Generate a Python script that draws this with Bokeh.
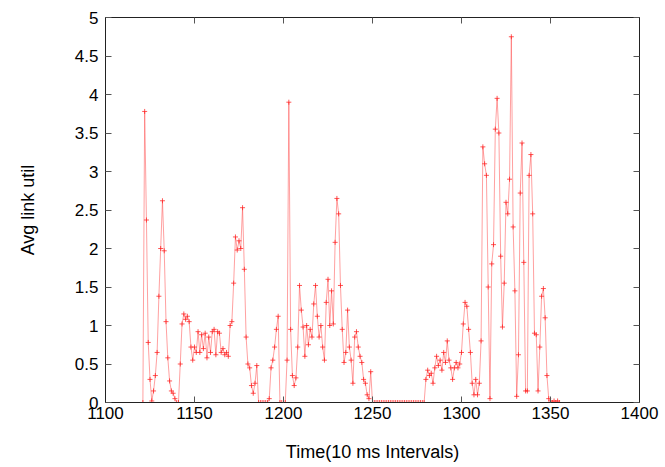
from bokeh.plotting import figure
from bokeh.models import Range1d, LinearAxis, FixedTicker
from bokeh.embed import file_html
from bokeh.resources import INLINE

# Time (10 ms intervals) and average link utilisation
time_start = 1121
util = [
    0.0, 3.78, 2.37, 0.78, 0.30, 0.02, 0.15, 0.35, 0.65, 1.38,          # 1121-1130
    2.00, 2.62, 1.97, 1.05, 0.58, 0.28, 0.15, 0.12, 0.05, 0.0,          # 1131-1140
    0.0, 0.50, 1.02, 1.15, 1.08, 1.12, 1.05, 0.72, 0.55, 0.72,          # 1141-1150
    0.65, 0.92, 0.65, 0.88, 0.70, 0.90, 0.58, 0.85, 0.65, 0.92,         # 1151-1160
    0.95, 0.62, 0.92, 0.90, 0.65, 0.70, 0.62, 0.65, 0.60, 1.00,         # 1161-1170
    1.05, 1.55, 2.15, 1.98, 2.10, 2.00, 2.53, 1.73, 0.85, 0.50,         # 1171-1180
    0.45, 0.22, 0.12, 0.25, 0.48, 0.0, 0.0, 0.0, 0.0, 0.0,              # 1181-1190
    0.0, 0.05, 0.45, 0.55, 0.72, 0.95, 1.12, 0.0, 0.0, 0.0,             # 1191-1200
    0.0, 0.55, 3.90, 0.95, 0.35, 0.22, 0.32, 0.72, 1.52, 1.20,          # 1201-1210
    0.98, 0.60, 1.00, 0.75, 0.95, 0.85, 1.28, 1.52, 1.12, 0.85,         # 1211-1220
    1.00, 0.72, 0.55, 1.30, 1.60, 1.00, 1.45, 1.02, 2.08, 2.65,         # 1221-1230
    2.45, 1.52, 0.95, 0.52, 0.65, 1.20, 0.72, 0.55, 0.25, 0.85,         # 1231-1240
    0.92, 0.72, 0.60, 0.52, 0.30, 0.25, 0.10, 0.05, 0.40, 0.0,          # 1241-1250
    0.0, 0.0, 0.0, 0.0, 0.0, 0.0, 0.0, 0.0, 0.0, 0.0,                   # 1251-1260
    0.0, 0.0, 0.0, 0.0, 0.0, 0.0, 0.0, 0.0, 0.0, 0.0,                   # 1261-1270
    0.0, 0.0, 0.0, 0.0, 0.0, 0.0, 0.0, 0.0, 0.0, 0.30,                  # 1271-1280
    0.42, 0.35, 0.38, 0.25, 0.45, 0.60, 0.48, 0.55, 0.42, 0.65,         # 1281-1290
    0.52, 0.80, 0.55, 0.45, 0.30, 0.45, 0.52, 0.45, 0.50, 0.65,         # 1291-1300
    1.02, 1.30, 1.25, 0.95, 0.65, 0.25, 0.10, 0.30, 0.10, 0.25,         # 1301-1310
    0.80, 3.32, 3.10, 2.95, 1.50, 0.05, 1.80, 2.05, 3.55, 3.95,         # 1311-1320
    3.50, 1.90, 0.98, 1.55, 2.60, 2.45, 2.90, 4.75, 2.28, 1.45,         # 1321-1330
    0.08, 0.62, 2.72, 3.37, 1.82, 0.15, 0.15, 2.95, 3.22, 2.45,         # 1331-1340
    0.90, 0.88, 0.15, 0.72, 1.38, 1.48, 1.10, 0.35, 0.05, 0.02,         # 1341-1350
    0.0, 0.02, 0.0, 0.02, 0.0,                                          # 1351-1355
]
times = [time_start + i for i in range(len(util))]

x_ticks = [1100, 1150, 1200, 1250, 1300, 1350, 1400]
y_ticks = [0, 0.5, 1, 1.5, 2, 2.5, 3, 3.5, 4, 4.5, 5]
y_tick_labels = {0: "0", 0.5: "0.5", 1: "1", 1.5: "1.5", 2: "2", 2.5: "2.5",
                 3: "3", 3.5: "3.5", 4: "4", 4.5: "4.5", 5: "5"}

FONT = "Liberation Sans"

p = figure(width=665, height=467, output_backend="svg", toolbar_location=None,
           x_range=Range1d(1100, 1400), y_range=Range1d(0, 5),
           min_border_left=105, min_border_right=26, min_border_top=17,
           min_border_bottom=65, background_fill_color="white",
           border_fill_color="white")
p.grid.visible = False
p.outline_line_color = "#222222"
p.outline_line_width = 1

p.line(times, util, line_color="#ff4444", line_alpha=0.5, line_width=1)
p.scatter(times, util, marker="cross", size=5, line_color="#ff2020",
          line_alpha=0.75, line_width=1)

for ax in (p.xaxis[0], p.yaxis[0]):
    ax.major_tick_in = 6
    ax.major_tick_out = 0
    ax.minor_tick_in = 0
    ax.minor_tick_out = 0
    ax.axis_line_color = "#222222"
    ax.major_tick_line_color = "#555555"
    ax.major_label_text_font = FONT
    ax.major_label_text_font_size = "17px"
    ax.major_label_text_color = "black"
    ax.axis_label_text_font = FONT
    ax.axis_label_text_font_size = "18px"
    ax.axis_label_text_font_style = "normal"
    ax.axis_label_text_color = "black"

p.xaxis[0].ticker = FixedTicker(ticks=x_ticks)
p.yaxis[0].ticker = FixedTicker(ticks=y_ticks)
p.yaxis[0].major_label_overrides = y_tick_labels
p.xaxis[0].axis_label = "Time(10 ms Intervals)"
p.yaxis[0].axis_label = "Avg link util"
p.xaxis[0].major_label_standoff = 4
p.yaxis[0].major_label_standoff = 7
p.xaxis[0].axis_label_standoff = 20
p.yaxis[0].axis_label_standoff = 34

# mirrored ticks on top and right (gnuplot style), without labels
top = LinearAxis(ticker=FixedTicker(ticks=x_ticks), major_tick_in=6, major_tick_out=0,
                 minor_tick_in=0, minor_tick_out=0, major_label_text_color=None,
                 major_label_standoff=0,
                 axis_line_color="#222222", major_tick_line_color="#555555")
right = LinearAxis(ticker=FixedTicker(ticks=y_ticks), major_tick_in=6, major_tick_out=0,
                   minor_tick_in=0, minor_tick_out=0, major_label_text_color=None,
                   major_label_standoff=0,
                   axis_line_color="#222222", major_tick_line_color="#555555")
p.add_layout(top, "above")
p.add_layout(right, "right")

open("out.html", "w").write(file_html(p, INLINE))
